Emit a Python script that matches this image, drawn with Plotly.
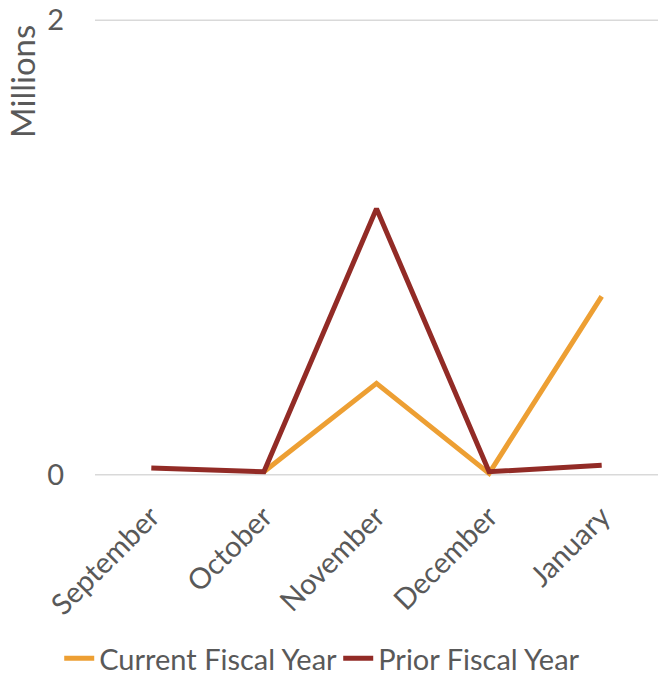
import plotly.graph_objects as go

months = ["September", "October", "November", "December", "January"]
current_fy = [None, 0.013, 0.402, 0.006, 0.785]
prior_fy = [0.030, 0.013, 1.171, 0.013, 0.042]
y_ticks = [0, 2]
y_tick_text = ["0", "2"]

font_family = "Lato, 'Open Sans', sans-serif"
text_color = "#595959"

fig = go.Figure()
fig.add_trace(go.Scatter(
    x=months, y=current_fy, name="Current Fiscal Year", mode="lines",
    line=dict(color="#ED9F33", width=5), connectgaps=False,
))
fig.add_trace(go.Scatter(
    x=months, y=prior_fy, name="Prior Fiscal Year", mode="lines",
    line=dict(color="#922B26", width=5),
))

# horizontal gridlines at the tick values
shapes = [dict(type="line", xref="paper", x0=0, x1=1, yref="y", y0=v, y1=v,
               line=dict(color="#D9D9D9", width=1.5), layer="below")
          for v in y_ticks]

fig.update_layout(
    width=658, height=684,
    margin=dict(l=95, r=0, t=18, b=207),
    paper_bgcolor="white", plot_bgcolor="white",
    font=dict(family=font_family, color=text_color, size=29),
    showlegend=True,
    legend=dict(orientation="h", x=0.09, xanchor="left", xref="container",
                y=0.0, yanchor="bottom", yref="container",
                font=dict(size=29, color=text_color), entrywidth=234,
                entrywidthmode="pixels", traceorder="normal"),
    xaxis=dict(range=[-0.5, 4.5], tickangle=-45, showgrid=False, zeroline=False,
               showline=False, ticks="", tickfont=dict(size=29, color=text_color),
               ticklabelstandoff=16),
    yaxis=dict(range=[-0.01, 2.01], tickvals=y_ticks, ticktext=y_tick_text,
               showgrid=False, zeroline=False, showline=False, ticks="",
               tickfont=dict(size=29, color=text_color),
               ticklabelstandoff=30),
    shapes=shapes,
    annotations=[dict(text="Millions", xref="paper", yref="paper",
                      x=-0.13, y=0.99, xanchor="center", yanchor="top",
                      textangle=-90, showarrow=False,
                      font=dict(size=33, color=text_color))],
)

fig.write_html("out.html")
